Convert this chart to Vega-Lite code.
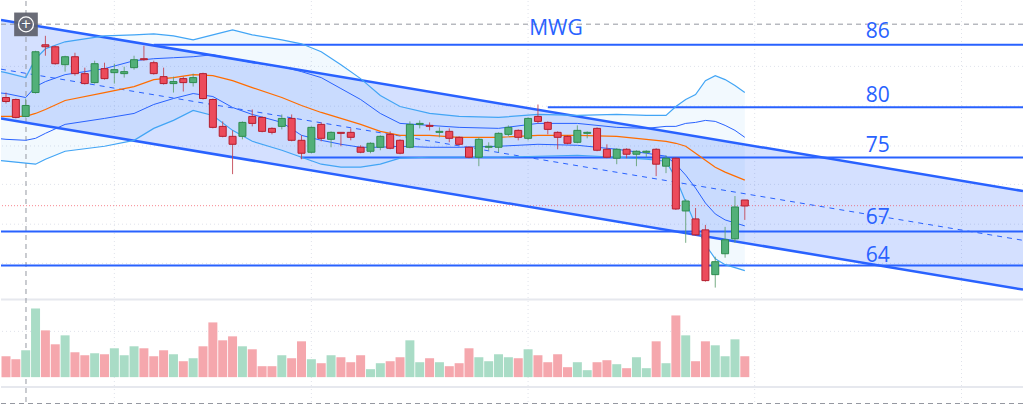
{
  "$schema": "https://vega.github.io/schema/vega-lite/v6.json",
  "width": 1024,
  "height": 406,
  "padding": 0,
  "autosize": {"type": "fit", "contains": "padding"},
  "background": "white",
  "config": {"view": {"stroke": null}, "scale": {"continuousPadding": 0}},
  "datasets": {
    "candles": [
      {"i":0,"o":80.7,"h":81.2,"l":80.1,"c":80.3,"v":2.1},
      {"i":1,"o":80.5,"h":80.6,"l":78.6,"c":78.7,"v":1.8},
      {"i":2,"o":78.8,"h":80.6,"l":78.7,"c":79.9,"v":2.7},
      {"i":3,"o":81.2,"h":85.4,"l":81.1,"c":85.3,"v":6.9},
      {"i":4,"o":86.0,"h":86.9,"l":84.9,"c":85.8,"v":4.7},
      {"i":5,"o":85.8,"h":85.9,"l":84.0,"c":84.1,"v":3.3},
      {"i":6,"o":84.0,"h":84.9,"l":83.3,"c":84.8,"v":4.2},
      {"i":7,"o":84.8,"h":85.2,"l":82.9,"c":83.1,"v":2.5},
      {"i":8,"o":83.1,"h":83.7,"l":82.0,"c":82.1,"v":2.2},
      {"i":9,"o":82.2,"h":84.4,"l":82.1,"c":84.1,"v":2.4},
      {"i":10,"o":83.6,"h":84.2,"l":82.5,"c":82.6,"v":2.3},
      {"i":11,"o":83.2,"h":84.1,"l":82.1,"c":83.5,"v":2.9},
      {"i":12,"o":83.1,"h":83.8,"l":82.7,"c":83.3,"v":2.2},
      {"i":13,"o":83.7,"h":84.9,"l":83.5,"c":84.5,"v":3.1},
      {"i":14,"o":84.6,"h":85.9,"l":84.4,"c":84.5,"v":2.9},
      {"i":15,"o":84.2,"h":84.4,"l":83.0,"c":83.1,"v":2.1},
      {"i":16,"o":82.8,"h":83.7,"l":82.0,"c":82.1,"v":2.7},
      {"i":17,"o":82.1,"h":82.8,"l":81.2,"c":82.3,"v":2.3},
      {"i":18,"o":82.6,"h":82.8,"l":81.3,"c":82.2,"v":1.6},
      {"i":19,"o":82.2,"h":83.1,"l":81.8,"c":82.7,"v":1.9},
      {"i":20,"o":83.1,"h":83.2,"l":80.5,"c":80.6,"v":3.1},
      {"i":21,"o":80.5,"h":80.6,"l":77.6,"c":77.7,"v":5.5},
      {"i":22,"o":77.8,"h":78.3,"l":76.7,"c":76.8,"v":3.7},
      {"i":23,"o":76.8,"h":77.4,"l":73.0,"c":76.0,"v":4.1},
      {"i":24,"o":76.8,"h":78.3,"l":76.5,"c":78.2,"v":3.1},
      {"i":25,"o":78.8,"h":79.5,"l":77.8,"c":78.1,"v":2.8},
      {"i":26,"o":78.7,"h":78.8,"l":77.2,"c":77.3,"v":1.1},
      {"i":27,"o":77.6,"h":77.7,"l":77.0,"c":77.2,"v":1.1},
      {"i":28,"o":77.8,"h":79.0,"l":77.5,"c":78.6,"v":2.2},
      {"i":29,"o":78.6,"h":79.0,"l":76.3,"c":76.4,"v":1.9},
      {"i":30,"o":76.4,"h":76.9,"l":74.5,"c":75.1,"v":3.6},
      {"i":31,"o":75.2,"h":77.8,"l":75.1,"c":77.7,"v":1.8},
      {"i":32,"o":78.0,"h":78.2,"l":76.3,"c":76.6,"v":1.4},
      {"i":33,"o":76.5,"h":77.3,"l":75.7,"c":77.2,"v":2.2},
      {"i":34,"o":77.2,"h":77.2,"l":75.8,"c":77.1,"v":2.0},
      {"i":35,"o":77.2,"h":77.6,"l":76.4,"c":76.7,"v":1.5},
      {"i":36,"o":75.7,"h":75.9,"l":75.1,"c":75.2,"v":2.2},
      {"i":37,"o":75.3,"h":76.2,"l":75.1,"c":76.1,"v":0.8},
      {"i":38,"o":75.7,"h":76.9,"l":75.4,"c":76.8,"v":1.4},
      {"i":39,"o":77.0,"h":77.3,"l":75.5,"c":75.6,"v":1.6},
      {"i":40,"o":76.4,"h":76.5,"l":75.0,"c":75.1,"v":2.0},
      {"i":41,"o":75.7,"h":78.3,"l":75.6,"c":78.0,"v":3.7},
      {"i":42,"o":78.0,"h":78.4,"l":77.6,"c":78.1,"v":1.5},
      {"i":43,"o":77.9,"h":78.2,"l":77.4,"c":77.8,"v":1.9},
      {"i":44,"o":77.2,"h":77.7,"l":76.7,"c":77.3,"v":1.5},
      {"i":45,"o":77.3,"h":77.6,"l":76.2,"c":76.6,"v":1.1},
      {"i":46,"o":76.7,"h":76.8,"l":75.9,"c":76.0,"v":1.4},
      {"i":47,"o":75.7,"h":75.8,"l":74.6,"c":74.7,"v":2.9},
      {"i":48,"o":74.7,"h":76.7,"l":73.8,"c":76.5,"v":2.0},
      {"i":49,"o":75.7,"h":76.2,"l":75.4,"c":75.8,"v":1.6},
      {"i":50,"o":75.7,"h":77.2,"l":75.2,"c":77.1,"v":2.3},
      {"i":51,"o":77.0,"h":77.9,"l":76.8,"c":77.7,"v":2.0},
      {"i":52,"o":77.4,"h":77.5,"l":76.4,"c":76.7,"v":1.9},
      {"i":53,"o":76.6,"h":78.7,"l":76.4,"c":78.6,"v":2.8},
      {"i":54,"o":78.8,"h":80.0,"l":78.1,"c":78.3,"v":2.2},
      {"i":55,"o":78.2,"h":78.3,"l":77.0,"c":77.5,"v":1.5},
      {"i":56,"o":77.2,"h":77.3,"l":75.5,"c":76.7,"v":2.3},
      {"i":57,"o":76.8,"h":76.9,"l":76.0,"c":76.1,"v":1.0},
      {"i":58,"o":76.2,"h":77.9,"l":76.1,"c":77.4,"v":1.5},
      {"i":59,"o":77.1,"h":77.3,"l":76.6,"c":77.2,"v":0.7},
      {"i":60,"o":77.6,"h":77.7,"l":75.3,"c":75.4,"v":1.5},
      {"i":61,"o":75.5,"h":76.0,"l":74.6,"c":74.7,"v":1.7},
      {"i":62,"o":74.6,"h":75.6,"l":74.0,"c":75.5,"v":1.3},
      {"i":63,"o":75.5,"h":75.6,"l":74.6,"c":75.0,"v":0.9},
      {"i":64,"o":75.0,"h":75.4,"l":73.8,"c":75.3,"v":2.0},
      {"i":65,"o":75.2,"h":75.4,"l":74.7,"c":75.3,"v":0.9},
      {"i":66,"o":75.5,"h":75.6,"l":72.8,"c":74.0,"v":3.6},
      {"i":67,"o":73.8,"h":74.9,"l":73.1,"c":74.6,"v":1.4},
      {"i":68,"o":74.6,"h":74.7,"l":69.4,"c":69.5,"v":6.2},
      {"i":69,"o":69.3,"h":70.5,"l":66.1,"c":70.3,"v":4.2},
      {"i":70,"o":68.5,"h":69.6,"l":66.8,"c":66.9,"v":1.6},
      {"i":71,"o":67.4,"h":67.9,"l":62.2,"c":62.3,"v":3.6},
      {"i":72,"o":62.9,"h":64.7,"l":61.6,"c":64.2,"v":3.2},
      {"i":73,"o":65.0,"h":67.7,"l":64.6,"c":66.4,"v":2.1},
      {"i":74,"o":66.5,"h":70.8,"l":66.1,"c":69.7,"v":3.8},
      {"i":75,"o":70.4,"h":70.4,"l":68.4,"c":69.8,"v":2.1}
    ],
    "bands": [
      {"i":-1,"ou":83.4,"iu":81.2,"b":78.8,"il":76.6,"ol":74.4},
      {"i":0,"ou":83.2,"iu":81.1,"b":78.8,"il":76.5,"ol":74.3},
      {"i":2,"ou":82.7,"iu":80.7,"b":78.8,"il":76.4,"ol":74.1},
      {"i":3,"ou":84.6,"iu":81.8,"b":79.1,"il":76.6,"ol":74.0},
      {"i":4,"ou":85.6,"iu":82.3,"b":79.5,"il":77.1,"ol":74.5},
      {"i":6,"ou":86.3,"iu":83.0,"b":80.4,"il":78.0,"ol":75.3},
      {"i":10,"ou":86.9,"iu":83.6,"b":81.2,"il":78.6,"ol":75.8},
      {"i":13,"ou":87.0,"iu":84.4,"b":81.8,"il":79.1,"ol":76.4},
      {"i":15,"ou":87.1,"iu":84.6,"b":82.5,"il":80.0,"ol":77.6},
      {"i":17,"ou":86.9,"iu":84.7,"b":82.7,"il":80.6,"ol":78.4},
      {"i":19,"ou":86.5,"iu":84.8,"b":83.0,"il":81.1,"ol":79.4},
      {"i":21,"ou":87.0,"iu":85.0,"b":82.9,"il":80.8,"ol":78.9},
      {"i":23,"ou":87.5,"iu":84.6,"b":82.4,"il":79.7,"ol":77.4},
      {"i":25,"ou":87.0,"iu":84.2,"b":81.7,"il":79.0,"ol":76.3},
      {"i":28,"ou":86.5,"iu":83.8,"b":80.7,"il":78.2,"ol":75.4},
      {"i":30,"ou":86.1,"iu":83.3,"b":79.9,"il":76.9,"ol":74.7},
      {"i":32,"ou":85.3,"iu":82.7,"b":79.2,"il":76.4,"ol":74.0},
      {"i":34,"ou":84.0,"iu":81.6,"b":78.6,"il":76.0,"ol":73.7},
      {"i":36,"ou":82.6,"iu":80.5,"b":78.0,"il":75.7,"ol":73.7},
      {"i":38,"ou":80.9,"iu":79.1,"b":77.3,"il":75.7,"ol":74.0},
      {"i":40,"ou":79.8,"iu":78.1,"b":76.9,"il":75.8,"ol":74.6},
      {"i":43,"ou":79.1,"iu":77.9,"b":76.9,"il":75.7,"ol":74.7},
      {"i":46,"ou":78.8,"iu":77.7,"b":76.7,"il":75.7,"ol":74.7},
      {"i":50,"ou":78.7,"iu":77.6,"b":76.7,"il":75.8,"ol":74.7},
      {"i":54,"ou":79.0,"iu":78.1,"b":76.9,"il":76.0,"ol":74.8},
      {"i":58,"ou":78.9,"iu":78.1,"b":76.9,"il":75.9,"ol":74.9},
      {"i":62,"ou":79.0,"iu":77.7,"b":76.8,"il":75.5,"ol":74.7},
      {"i":65,"ou":78.9,"iu":77.6,"b":76.5,"il":75.1,"ol":74.5},
      {"i":67,"ou":78.9,"iu":77.8,"b":76.3,"il":74.8,"ol":74.3},
      {"i":68,"ou":79.8,"iu":77.8,"b":76.1,"il":74.0,"ol":72.6},
      {"i":69,"ou":80.5,"iu":78.1,"b":75.8,"il":72.9,"ol":70.2},
      {"i":70,"ou":81.0,"iu":78.2,"b":75.1,"il":71.6,"ol":67.9},
      {"i":71,"ou":82.4,"iu":78.4,"b":74.4,"il":70.1,"ol":65.9},
      {"i":72,"ou":82.9,"iu":78.3,"b":73.7,"il":69.0,"ol":64.5},
      {"i":73,"ou":82.5,"iu":77.9,"b":73.2,"il":68.4,"ol":63.9},
      {"i":74,"ou":81.9,"iu":77.4,"b":72.8,"il":68.1,"ol":63.6},
      {"i":75,"ou":81.2,"iu":76.7,"b":72.4,"il":67.8,"ol":63.3}
    ],
    "channel": [
      {"i":-0.507,"up":88.5,"lo":78.6,"mid":83.55},
      {"i":103.24,"up":71.3,"lo":61.4,"mid":66.35}
    ],
    "levels": [
      {"p":86.0,"i0":15.0},
      {"p":79.73,"i0":55.0},
      {"p":74.67,"i0":29.9},
      {"p":67.23,"i0":-0.507},
      {"p":63.83,"i0":-0.507}
    ],
    "labels": [
      {"i":55.83,"p":87.0,"t":"MWG"},
      {"i":88.5,"p":86.7,"t":"86"},
      {"i":88.5,"p":80.3,"t":"80"},
      {"i":88.5,"p":75.2,"t":"75"},
      {"i":88.5,"p":68.0,"t":"67"},
      {"i":88.5,"p":64.2,"t":"64"}
    ]
  },
  "layer": [
    {
      "layer": [
        {
          "data": {"values": [{"i":11},{"i":31},{"i":53},{"i":76},{"i":97}]},
          "mark": {"type": "rule", "color": "#e0e3eb", "strokeDash": [1, 3], "strokeWidth": 1},
          "encoding": {
            "x": {"field": "i", "type": "quantitative", "scale": {"domain": [-0.507, 103.24], "nice": false, "zero": false}, "axis": null}
          }
        },
        {
          "data": {"values": [{"p":83.83},{"p":79.83},{"p":75.83},{"p":71.97},{"p":67.97},{"p":64.03},{"p":57.2}]},
          "mark": {"type": "rule", "color": "#e0e3eb", "strokeDash": [1, 3], "strokeWidth": 1},
          "encoding": {
            "y": {"field": "p", "type": "quantitative", "scale": {"domain": [49.8, 90.4], "nice": false, "zero": false}, "axis": null}
          }
        },
        {
          "data": {"name": "bands"},
          "mark": {"type": "area", "color": "#2196f3", "opacity": 0.06, "clip": true},
          "encoding": {
            "x": {"field": "i", "type": "quantitative", "scale": {"domain": [-0.507, 103.24], "nice": false, "zero": false}, "axis": null},
            "y": {"field": "ou", "type": "quantitative", "scale": {"domain": [49.8, 90.4], "nice": false, "zero": false}, "axis": null},
            "y2": {"field": "ol"}
          }
        },
        {
          "data": {"name": "channel"},
          "mark": {"type": "area", "color": "#2962ff", "opacity": 0.2, "clip": true},
          "encoding": {
            "x": {"field": "i", "type": "quantitative", "scale": {"domain": [-0.507, 103.24], "nice": false, "zero": false}, "axis": null},
            "y": {"field": "up", "type": "quantitative", "scale": {"domain": [49.8, 90.4], "nice": false, "zero": false}, "axis": null},
            "y2": {"field": "lo"}
          }
        },
        {
          "data": {"values": [{"p":60.4},{"p":51.6}]},
          "mark": {"type": "rule", "color": "#e6e8ee", "strokeWidth": 2},
          "encoding": {
            "y": {"field": "p", "type": "quantitative", "scale": {"domain": [49.8, 90.4], "nice": false, "zero": false}, "axis": null}
          }
        },
        {
          "data": {"values": [{"p":88.07},{"p":49.95}]},
          "mark": {"type": "rule", "color": "#9598a1", "strokeDash": [5, 4], "strokeWidth": 1},
          "encoding": {
            "y": {"field": "p", "type": "quantitative", "scale": {"domain": [49.8, 90.4], "nice": false, "zero": false}, "axis": null}
          }
        },
        {
          "data": {"values": [{"i":2.03}]},
          "mark": {"type": "rule", "color": "#9598a1", "strokeDash": [5, 4], "strokeWidth": 1},
          "encoding": {
            "x": {"field": "i", "type": "quantitative", "scale": {"domain": [-0.507, 103.24], "nice": false, "zero": false}, "axis": null}
          }
        },
        {
          "data": {"values": [{"p":69.83}]},
          "mark": {"type": "rule", "color": "#f23645", "strokeDash": [1, 2], "strokeWidth": 1, "opacity": 0.6},
          "encoding": {
            "y": {"field": "p", "type": "quantitative", "scale": {"domain": [49.8, 90.4], "nice": false, "zero": false}, "axis": null}
          }
        },
        {
          "data": {"name": "levels"},
          "mark": {"type": "rule", "color": "#2962ff", "strokeWidth": 2},
          "encoding": {
            "x": {"field": "i0", "type": "quantitative", "scale": {"domain": [-0.507, 103.24], "nice": false, "zero": false}, "axis": null},
            "x2": {"datum": 103.24},
            "y": {"field": "p", "type": "quantitative", "scale": {"domain": [49.8, 90.4], "nice": false, "zero": false}, "axis": null}
          }
        },
        {
          "data": {"name": "channel"},
          "mark": {"type": "line", "color": "#2962ff", "strokeWidth": 2.5, "clip": true},
          "encoding": {
            "x": {"field": "i", "type": "quantitative", "scale": {"domain": [-0.507, 103.24], "nice": false, "zero": false}, "axis": null},
            "y": {"field": "up", "type": "quantitative", "scale": {"domain": [49.8, 90.4], "nice": false, "zero": false}, "axis": null}
          }
        },
        {
          "data": {"name": "channel"},
          "mark": {"type": "line", "color": "#2962ff", "strokeWidth": 2.5, "clip": true},
          "encoding": {
            "x": {"field": "i", "type": "quantitative", "scale": {"domain": [-0.507, 103.24], "nice": false, "zero": false}, "axis": null},
            "y": {"field": "lo", "type": "quantitative", "scale": {"domain": [49.8, 90.4], "nice": false, "zero": false}, "axis": null}
          }
        },
        {
          "data": {"name": "channel"},
          "mark": {"type": "line", "color": "#2962ff", "strokeWidth": 1, "strokeDash": [5, 5], "clip": true},
          "encoding": {
            "x": {"field": "i", "type": "quantitative", "scale": {"domain": [-0.507, 103.24], "nice": false, "zero": false}, "axis": null},
            "y": {"field": "mid", "type": "quantitative", "scale": {"domain": [49.8, 90.4], "nice": false, "zero": false}, "axis": null}
          }
        },
        {
          "data": {"name": "bands"},
          "mark": {"type": "line", "color": "#42a5f5", "strokeWidth": 1.2, "clip": true},
          "encoding": {
            "x": {"field": "i", "type": "quantitative", "scale": {"domain": [-0.507, 103.24], "nice": false, "zero": false}, "axis": null},
            "y": {"field": "ou", "type": "quantitative", "scale": {"domain": [49.8, 90.4], "nice": false, "zero": false}, "axis": null}
          }
        },
        {
          "data": {"name": "bands"},
          "mark": {"type": "line", "color": "#42a5f5", "strokeWidth": 1.2, "clip": true},
          "encoding": {
            "x": {"field": "i", "type": "quantitative", "scale": {"domain": [-0.507, 103.24], "nice": false, "zero": false}, "axis": null},
            "y": {"field": "ol", "type": "quantitative", "scale": {"domain": [49.8, 90.4], "nice": false, "zero": false}, "axis": null}
          }
        },
        {
          "data": {"name": "bands"},
          "mark": {"type": "line", "color": "#2962ff", "strokeWidth": 1, "clip": true},
          "encoding": {
            "x": {"field": "i", "type": "quantitative", "scale": {"domain": [-0.507, 103.24], "nice": false, "zero": false}, "axis": null},
            "y": {"field": "iu", "type": "quantitative", "scale": {"domain": [49.8, 90.4], "nice": false, "zero": false}, "axis": null}
          }
        },
        {
          "data": {"name": "bands"},
          "mark": {"type": "line", "color": "#2962ff", "strokeWidth": 1, "clip": true},
          "encoding": {
            "x": {"field": "i", "type": "quantitative", "scale": {"domain": [-0.507, 103.24], "nice": false, "zero": false}, "axis": null},
            "y": {"field": "il", "type": "quantitative", "scale": {"domain": [49.8, 90.4], "nice": false, "zero": false}, "axis": null}
          }
        },
        {
          "data": {"name": "bands"},
          "mark": {"type": "line", "color": "#ff6d00", "strokeWidth": 1.2, "clip": true},
          "encoding": {
            "x": {"field": "i", "type": "quantitative", "scale": {"domain": [-0.507, 103.24], "nice": false, "zero": false}, "axis": null},
            "y": {"field": "b", "type": "quantitative", "scale": {"domain": [49.8, 90.4], "nice": false, "zero": false}, "axis": null}
          }
        },
        {
          "data": {"name": "candles"},
          "mark": {"type": "rule", "strokeWidth": 1, "opacity": 0.85},
          "encoding": {
            "x": {"field": "i", "type": "quantitative", "scale": {"domain": [-0.507, 103.24], "nice": false, "zero": false}, "axis": null},
            "y": {"field": "l", "type": "quantitative", "scale": {"domain": [49.8, 90.4], "nice": false, "zero": false}, "axis": null},
            "y2": {"field": "h"},
            "stroke": {"condition": {"test": "datum.c >= datum.o", "value": "#5f9f70"}, "value": "#c2404d"}
          }
        },
        {
          "data": {"name": "candles"},
          "mark": {"type": "bar", "width": 7, "strokeWidth": 1},
          "encoding": {
            "x": {"field": "i", "type": "quantitative", "scale": {"domain": [-0.507, 103.24], "nice": false, "zero": false}, "axis": null},
            "y": {"field": "o", "type": "quantitative", "scale": {"domain": [49.8, 90.4], "nice": false, "zero": false}, "axis": null},
            "y2": {"field": "c"},
            "fill": {"condition": {"test": "datum.c >= datum.o", "value": "#52b079"}, "value": "#ec4b5b"},
            "stroke": {"condition": {"test": "datum.c >= datum.o", "value": "#2e8b4f"}, "value": "#b31f2f"}
          }
        },
        {
          "data": {"name": "labels"},
          "mark": {"type": "text", "font": "Open Sans", "fontSize": 21, "color": "#2962ff", "align": "center", "baseline": "alphabetic"},
          "encoding": {
            "x": {"field": "i", "type": "quantitative", "scale": {"domain": [-0.507, 103.24], "nice": false, "zero": false}, "axis": null},
            "y": {"field": "p", "type": "quantitative", "scale": {"domain": [49.8, 90.4], "nice": false, "zero": false}, "axis": null},
            "text": {"field": "t"}
          }
        },
        {
          "data": {"values": [{"i":2.03,"p":88.05}]},
          "layer": [
            {"mark": {"type": "point", "shape": "square", "size": 560, "filled": true, "color": "#5d606b", "opacity": 0.92}},
            {"mark": {"type": "point", "shape": "circle", "size": 220, "filled": false, "color": "white", "strokeWidth": 1.3, "opacity": 1}},
            {"mark": {"type": "text", "text": "+", "font": "DejaVu Sans", "fontSize": 13, "color": "white", "baseline": "middle", "align": "center"}}
          ],
          "encoding": {
            "x": {"field": "i", "type": "quantitative", "scale": {"domain": [-0.507, 103.24], "nice": false, "zero": false}, "axis": null},
            "y": {"field": "p", "type": "quantitative", "scale": {"domain": [49.8, 90.4], "nice": false, "zero": false}, "axis": null}
          }
        }
      ]
    },
    {
      "data": {"name": "candles"},
      "mark": {"type": "bar", "width": 9},
      "encoding": {
        "x": {"field": "i", "type": "quantitative", "scale": {"domain": [-0.507, 103.24], "nice": false, "zero": false}, "axis": null},
        "y": {"field": "v", "type": "quantitative", "scale": {"domain": [-2.8, 37.8], "nice": false, "zero": false}, "axis": null},
        "y2": {"datum": 0},
        "fill": {"condition": {"test": "datum.c >= datum.o", "value": "#a9dcc6"}, "value": "#f5a7ad"}
      }
    }
  ],
  "resolve": {"scale": {"y": "independent"}}
}
